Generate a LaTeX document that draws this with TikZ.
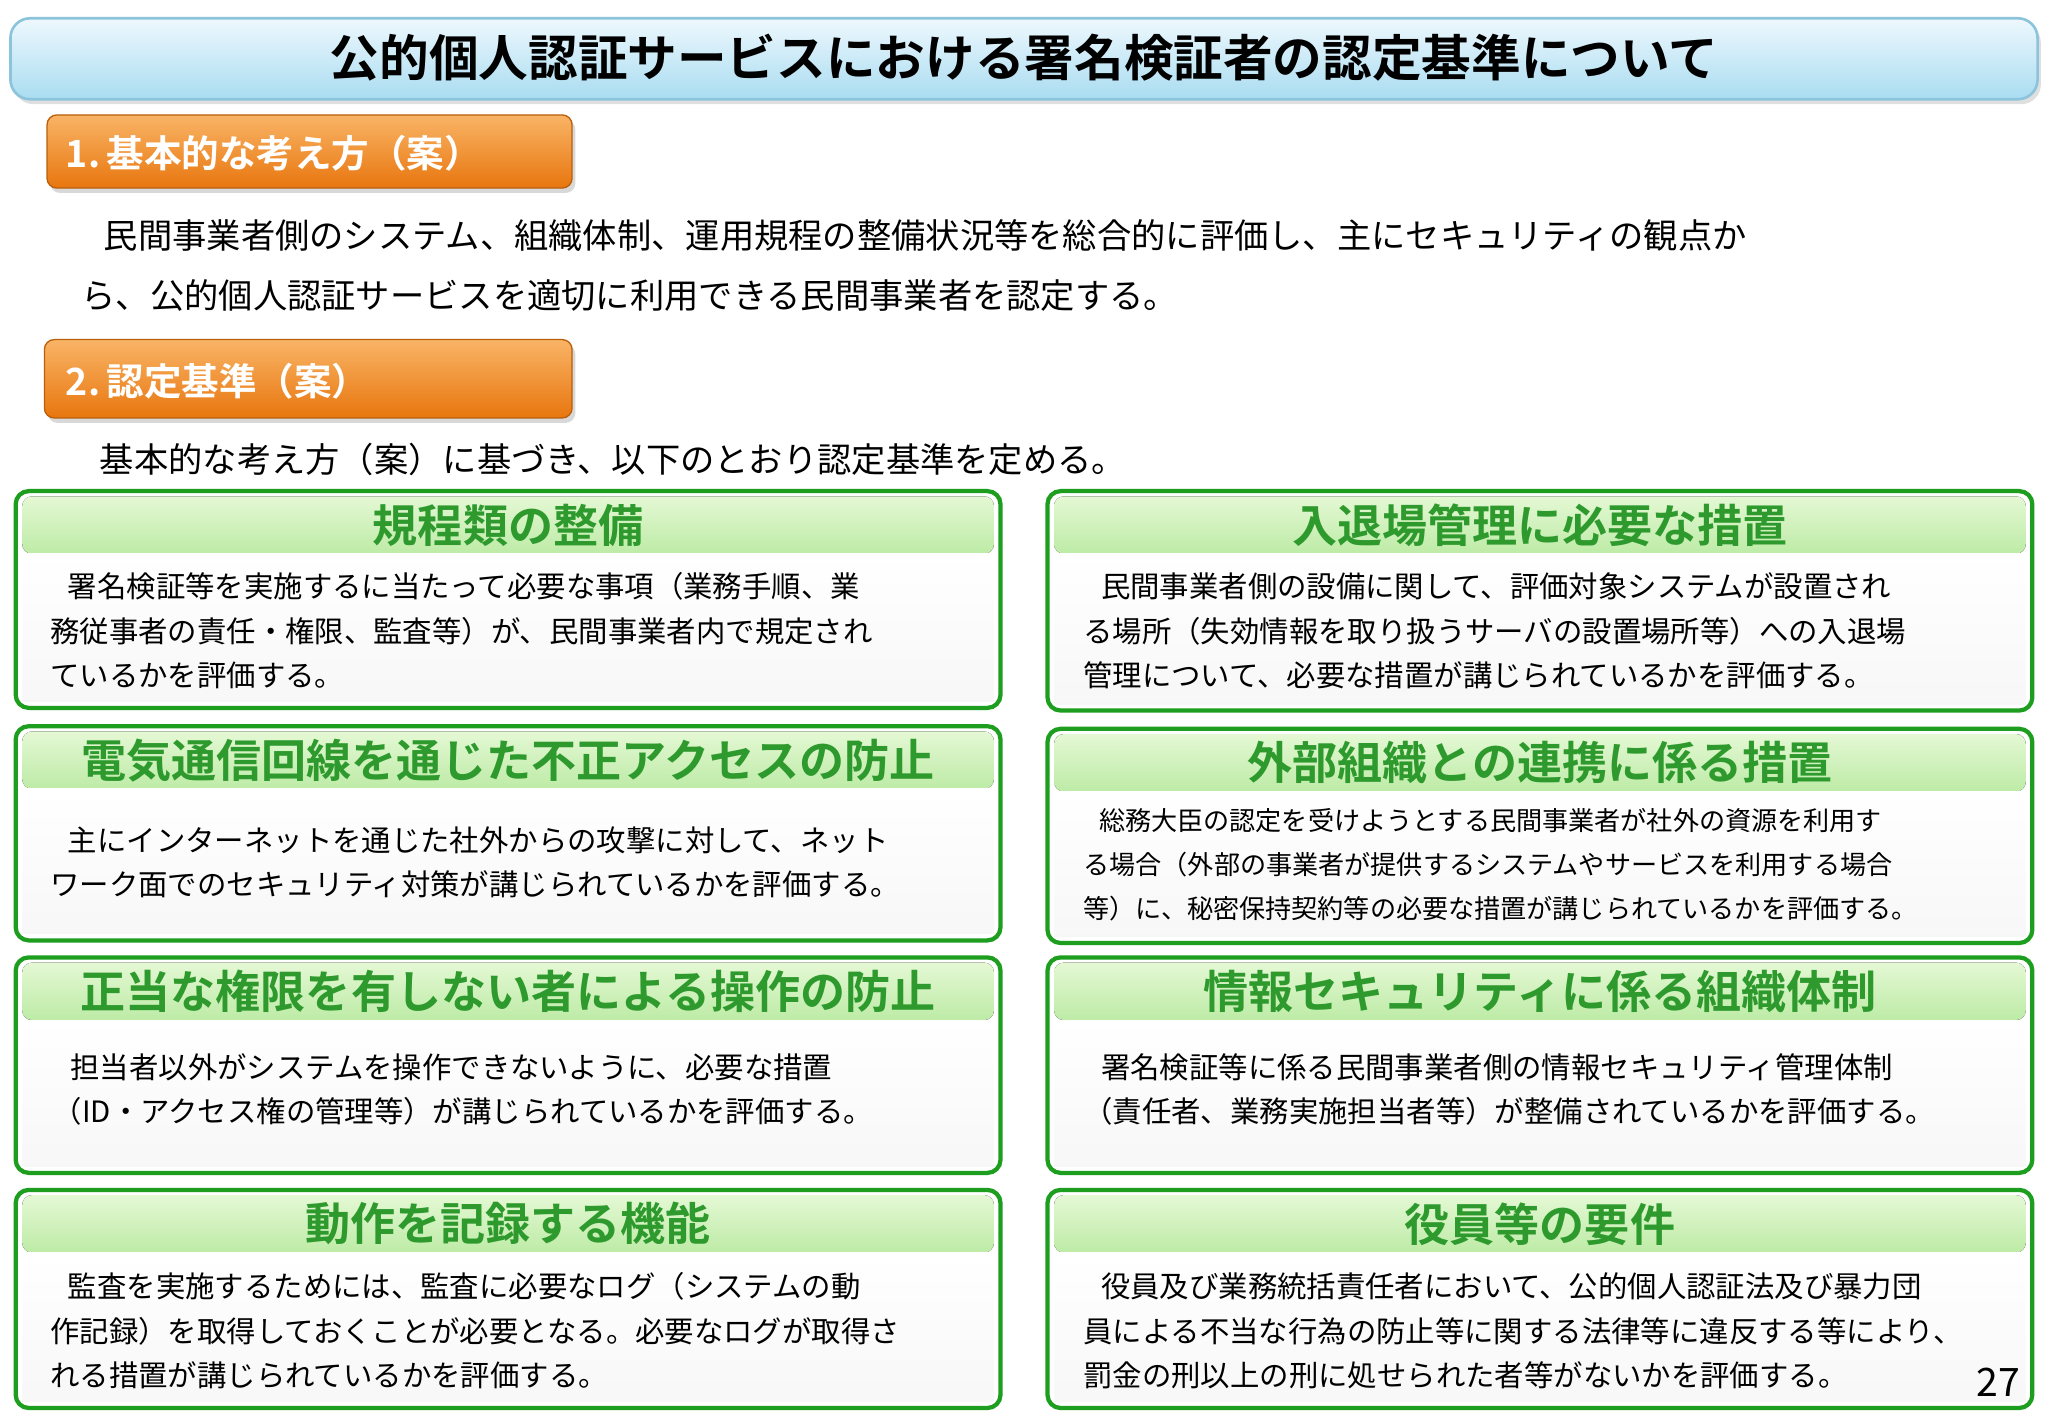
\documentclass[tikz,border=0pt]{standalone}
\usepackage{fontspec}
\setmainfont{Noto Sans CJK JP}[BoldFont={Noto Sans CJK JP Bold}]
\usetikzlibrary{shadows}
\definecolor{gborder}{HTML}{1E9E1E}
\definecolor{gtitle}{HTML}{2E9A2E}
\definecolor{gtop}{HTML}{E4F8D4}
\definecolor{gbot}{HTML}{BDEBA6}
\definecolor{otop}{HTML}{F9B466}
\definecolor{obot}{HTML}{E8760E}
\definecolor{btop}{HTML}{EEF8FD}
\definecolor{bbot}{HTML}{A9DCF1}
\definecolor{bline}{HTML}{8CC4DC}
\tikzset{
 x=0.4pt,y=-0.4pt,
 gbox/.style={draw=gborder,line width=1.3pt,rounded corners=4pt,fill=white},
 ghead/.style={font=\bfseries\fontsize{13.8}{14}\selectfont,text=gtitle},
 body/.style={font=\fontsize{9}{13.6}\selectfont,align=left,anchor=west,inner sep=0pt},
 obox/.style={rounded corners=3pt,top color=otop,bottom color=obot,draw=obot!80!black,line width=0.4pt,drop shadow={opacity=0.3,shadow xshift=1pt,shadow yshift=-1.5pt}},
 otext/.style={font=\bfseries\fontsize{11.5}{12}\selectfont,text=white,anchor=west,inner sep=0pt},
 para/.style={font=\fontsize{10.5}{18.4}\selectfont,align=left,anchor=west,inner sep=0pt}
}
\newcommand{\gpanel}[5]{% x1 y1 x2 y2 title
 \draw[gbox] (#1,#2) rectangle (#3,#4);
 \fill[top color=gtop,bottom color=gbot,rounded corners=3pt] (#1+5,#2+4) rectangle (#3-5,#2+48);
 \fill[top color=white,bottom color=gray!6] (#1+5,#2+48) rectangle (#3-5,#4-5);
 \node[ghead] at ({(#1+#3)/2},#2+26) {#5};
}
\begin{document}
\begin{tikzpicture}
\useasboundingbox (0,0) rectangle (1568,1085.6);
\fill[white] (0,0) rectangle (1568,1085.6);
\draw[top color=btop,bottom color=bbot,draw=bline,line width=0.8pt,rounded corners=6pt,drop shadow={opacity=0.25,shadow xshift=1pt,shadow yshift=-1.5pt}] (8,14) rectangle (1560,76);
\node[font=\bfseries\fontsize{15.2}{16}\selectfont] (title) at (784,44) {公的個人認証サービスにおける署名検証者の認定基準について};

\draw[obox] (36,88) rectangle (438,144);
\node[otext] (o1) at (50,117) {1.\,基本的な考え方（案）};
\node[para] (p1) at (62,203) {\hspace*{0.65em}民間事業者側のシステム、組織体制、運用規程の整備状況等を総合的に評価し、主にセキュリティの観点か\\ら、公的個人認証サービスを適切に利用できる民間事業者を認定する。};

\draw[obox] (34,260) rectangle (438,320);
\node[otext] (o2) at (50,292) {2.\,認定基準（案）};
\node[para] (p2) at (76,352) {基本的な考え方（案）に基づき、以下のとおり認定基準を定める。};

\gpanel{12}{376}{766}{542}{規程類の整備}
\node[body] (b1) at (38,483) {\hspace*{0.6em}署名検証等を実施するに当たって必要な事項（業務手順、業\\務従事者の責任・権限、監査等）が、民間事業者内で規定され\\ているかを評価する。};
\gpanel{802}{376}{1556}{544}{入退場管理に必要な措置}
\node[body] (b2) at (829,483) {\hspace*{0.6em}民間事業者側の設備に関して、評価対象システムが設置され\\る場所（失効情報を取り扱うサーバの設置場所等）への入退場\\管理について、必要な措置が講じられているかを評価する。};

\gpanel{12}{556}{766}{720}{電気通信回線を通じた不正アクセスの防止}
\node[body] (b3) at (38,660) {\hspace*{0.6em}主にインターネットを通じた社外からの攻撃に対して、ネット\\ワーク面でのセキュリティ対策が講じられているかを評価する。};
\gpanel{802}{558}{1556}{722}{外部組織との連携に係る措置}
\node[body,font=\fontsize{8}{13.6}\selectfont] (b4) at (829,662) {\hspace*{0.6em}総務大臣の認定を受けようとする民間事業者が社外の資源を利用す\\る場合（外部の事業者が提供するシステムやサービスを利用する場合\\等）に、秘密保持契約等の必要な措置が講じられているかを評価する。};

\gpanel{12}{733}{766}{898}{正当な権限を有しない者による操作の防止}
\node[body] (b5) at (40,834) {\hspace*{0.6em}担当者以外がシステムを操作できないように、必要な措置\\（ID・アクセス権の管理等）が講じられているかを評価する。};
\gpanel{802}{733}{1556}{898}{情報セキュリティに係る組織体制}
\node[body] (b6) at (829,834) {\hspace*{0.6em}署名検証等に係る民間事業者側の情報セキュリティ管理体制\\（責任者、業務実施担当者等）が整備されているかを評価する。};

\gpanel{12}{911}{766}{1078}{動作を記録する機能}
\node[body] (b7) at (38,1019) {\hspace*{0.6em}監査を実施するためには、監査に必要なログ（システムの動\\作記録）を取得しておくことが必要となる。必要なログが取得さ\\れる措置が講じられているかを評価する。};
\gpanel{802}{911}{1556}{1078}{役員等の要件}
\node[body] (b8) at (829,1019) {\hspace*{0.6em}役員及び業務統括責任者において、公的個人認証法及び暴力団\\員による不当な行為の防止等に関する法律等に違反する等により、\\罰金の刑以上の刑に処せられた者等がないかを評価する。};

\node[font=\fontsize{12}{12}\selectfont] (pg) at (1530,1058) {27};
\end{tikzpicture}
\end{document}
